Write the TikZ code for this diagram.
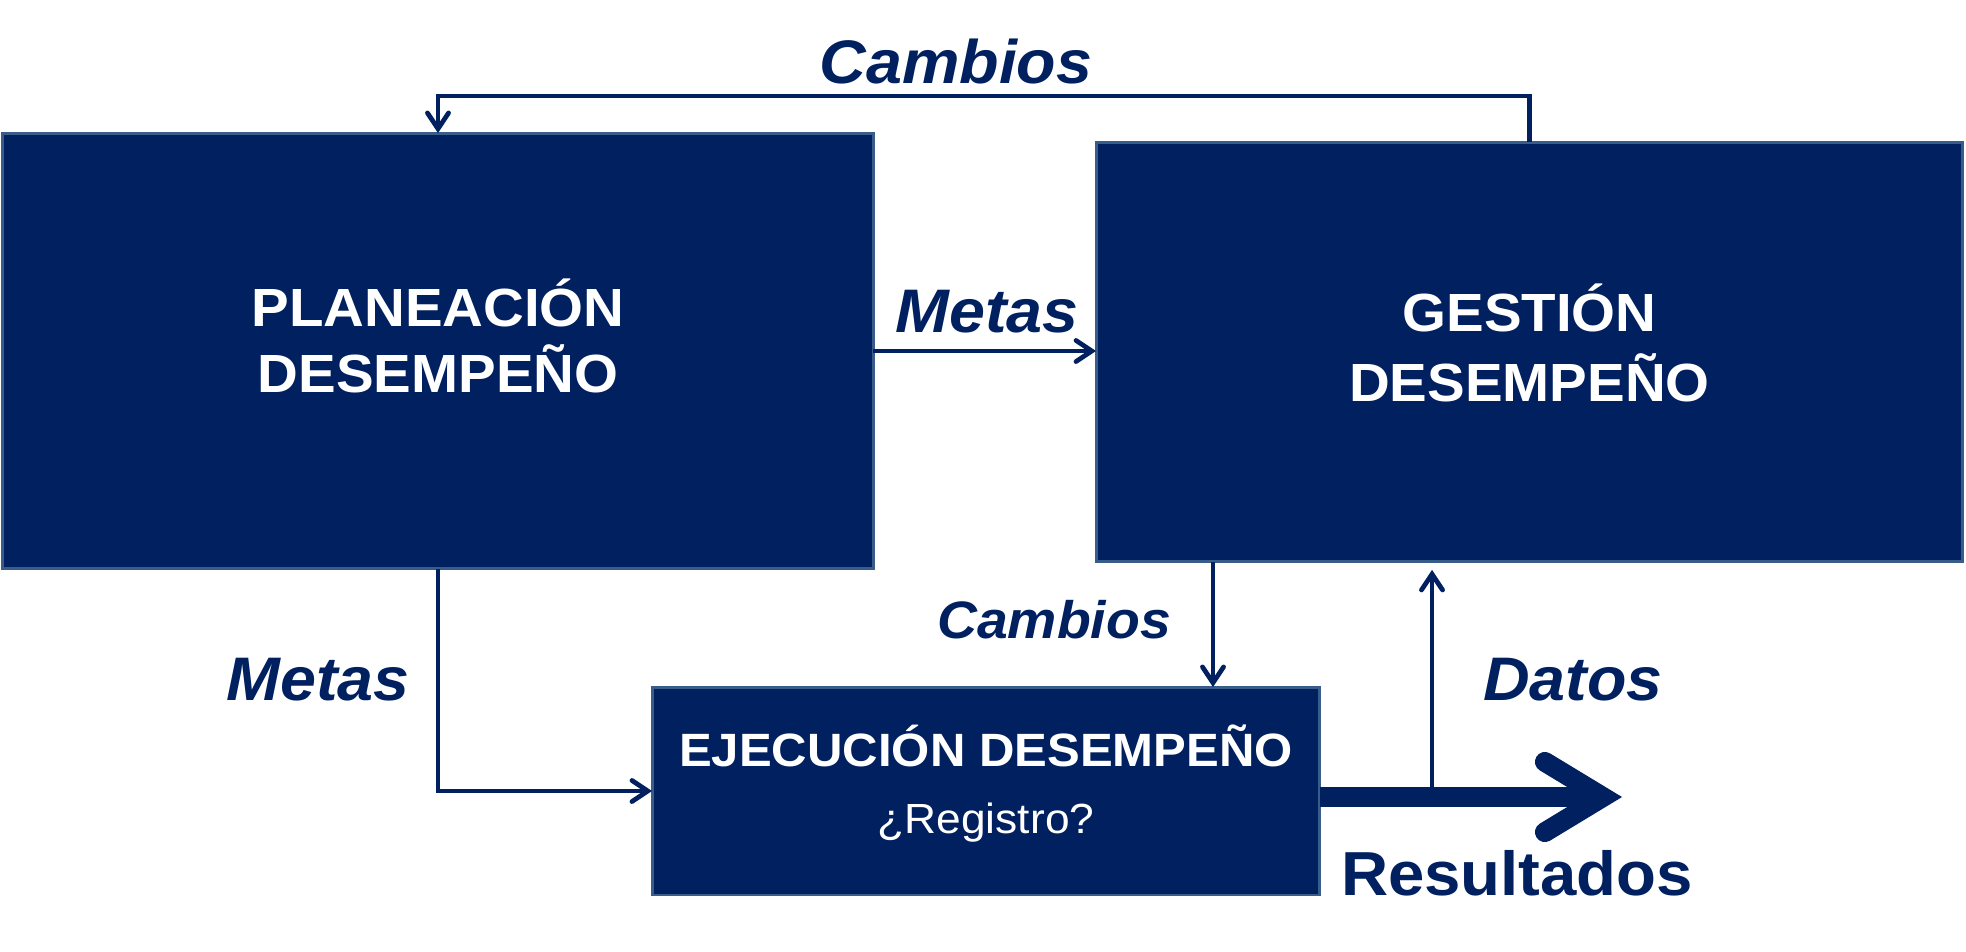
\documentclass[tikz,border=0pt]{standalone}
\usepackage{fontspec}
\setmainfont{Liberation Sans}[FakeStretch=1.05]
\usetikzlibrary{arrows.meta}
\definecolor{navy}{RGB}{0,32,96}
\definecolor{rim}{RGB}{56,93,138}

\begin{document}
\begin{tikzpicture}[x=0.02cm, y=-0.02cm, line width=2.7pt,
  box/.style={fill=navy, draw=rim, line width=1.7pt, text=white, align=center, inner sep=0pt, outer sep=0pt},
  flow/.style={draw=navy, -{Straight Barb[length=9pt, width=12pt, line cap=round, line join=miter]}},
  tag/.style={text=navy, font=\fontsize{35}{42}\selectfont\bfseries\itshape, anchor=base, inner sep=0pt}]
  \useasboundingbox (0,0) rectangle (1966,951);
  % the three blocks
  \node[box, minimum width=17.42cm, minimum height=8.72cm, text height=66.3pt, text depth=18.7pt,
        font=\fontsize{30.6}{38}\selectfont\bfseries] (plan) at (438,351) {PLANEACIÓN\\DESEMPEÑO};
  \node[box, minimum width=17.34cm, minimum height=8.4cm, text height=68.6pt, text depth=11.9pt,
        font=\fontsize{30.6}{40}\selectfont\bfseries] (gest) at (1529.5,352) {GESTIÓN\\DESEMPEÑO};
  \node[box, minimum width=13.36cm, minimum height=4.16cm, text height=63.5pt, text depth=14.7pt,
        font=\fontsize{26.6}{38.5}\selectfont\bfseries] (ejec) at (986,791)
        {EJECUCIÓN DESEMPEÑO\\{\fontsize{24}{38.5}\selectfont\mdseries ¿Registro?}};
  \coordinate (cx) at (1213,0);
  \coordinate (dx) at (1432,0);
  \coordinate (rtip) at (1622,797);
  % connectors
  \draw[flow] (gest.north) -- ++(0,-46) -| (plan.north);
  \draw[flow] (plan.east) -- (plan.east -| gest.west);
  \draw[flow] (plan.south) |- (ejec.west);
  \draw[flow] (gest.south -| cx) -- (ejec.north -| cx);
  \draw[flow, shorten >=4.5pt] (rtip -| dx) -- (gest.south -| dx);
  \draw[navy, line width=11.3pt, -{Straight Barb[length=33pt, width=40pt, line cap=round, line join=miter]}]
    (ejec.east |- rtip) -- (rtip);
  % labels
  \node[tag] (cambios1) at (956,83) {Cambios};
  \node[tag] (metas1) at (987,332) {Metas};
  \node[tag, font=\fontsize{30}{36}\selectfont\bfseries\itshape] (cambios2) at (1054,638) {Cambios};
  \node[tag] (metas2) at (318,700) {Metas};
  \node[tag] (datos) at (1573,700) {Datos};
  \node[tag, font=\fontsize{35.4}{42}\selectfont\bfseries] (result) at (1517,895) {Resultados};
\end{tikzpicture}
\end{document}
